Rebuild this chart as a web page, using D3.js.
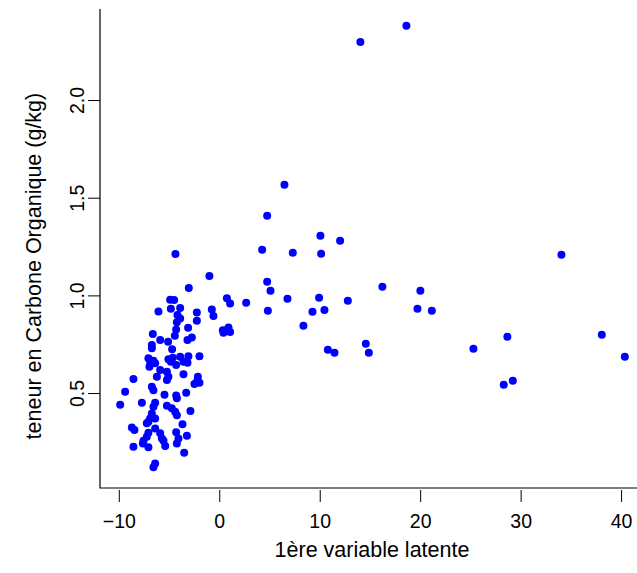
<!DOCTYPE html>
<html>
<head>
  <style>
    body {
      margin: 0;
      background: #fff;
      font-family: "Liberation Sans", Arial, sans-serif;
    }
    .axis text {
      font-size: 19.5px;
      fill: #000;
    }
    .label {
      font-size: 21.5px;
      text-anchor: middle;
    }
  </style>
</head>
<body>
  <script src="https://d3js.org/d3.v7.min.js"></script>
  <script>
    // 1ere variable latente
    var latent = [
      -4.36, -0.98, -3.03, -4.89, -4.49, 0.76, 1.08, -6.05, -4.82, -3.89,
      -2.23, -0.74, -0.58, -4.16, -3.89, -2.23, -4.22, -4.29, -3.10, -4.42,
      0.36, 0.92, 1.08, 0.42, -6.61, -5.88, -5.09, -3.16, -2.73, -6.71,
      -6.71, -4.69, -1.97, -7.05, -6.88, -6.55, -6.38, -6.95, -5.06, -4.62,
      -4.82, -3.89, -3.07, -3.56, -3.16, -4.29, -5.88, -5.21, -5.06, -5.21,
      -6.21, -3.56, -2.13, -2.23, -2.47, -1.97, -8.54, -6.71, -6.55, -9.37,
      -5.45, -4.29, -4.22, -3.29, -9.86, -7.70, -6.38, -6.55, -5.21, -4.72,
      -4.39, -4.22, -2.87, -6.71, -6.88, -7.05, -7.21, -6.38, -8.70, -8.44,
      -3.66, -6.38, -5.88, -5.71, -5.55, -7.05, -7.21, -7.54, -7.60, -4.29,
      -3.22, -4.06, -4.22, -8.54, -7.05, -5.38, -3.49, -6.38, -6.55,
      6.49, 4.77, 10.07, 12.03, 4.27, 7.32, 10.14, 4.77, 5.10, 16.24,
      20.02, 2.68, 6.79, 9.94, 12.80, 4.84, 9.28, 10.47, 19.73, 21.16,
      8.38, 10.81, 11.47, 14.59, 14.89, 34.06, 28.68, 25.30, 38.08, 40.37,
      28.32, 29.22, 14.05, 18.63
    ];

    // teneur en carbone organique (g/kg)
    var carbone = [
      1.212, 1.099, 1.038, 0.978, 0.976, 0.985, 0.959, 0.918, 0.932, 0.935,
      0.913, 0.928, 0.894, 0.899, 0.882, 0.870, 0.863, 0.826, 0.834, 0.793,
      0.822, 0.836, 0.812, 0.809, 0.802, 0.771, 0.763, 0.771, 0.785, 0.746,
      0.729, 0.724, 0.689, 0.678, 0.660, 0.665, 0.652, 0.635, 0.673, 0.681,
      0.660, 0.686, 0.689, 0.660, 0.655, 0.643, 0.618, 0.609, 0.583, 0.567,
      0.583, 0.596, 0.583, 0.558, 0.546, 0.553, 0.572, 0.532, 0.515, 0.507,
      0.491, 0.488, 0.473, 0.502, 0.440, 0.450, 0.450, 0.430, 0.435, 0.422,
      0.404, 0.386, 0.408, 0.396, 0.370, 0.353, 0.345, 0.370, 0.324, 0.311,
      0.340, 0.319, 0.294, 0.268, 0.256, 0.297, 0.276, 0.256, 0.242, 0.299,
      0.281, 0.268, 0.242, 0.225, 0.222, 0.229, 0.194, 0.140, 0.120,
      1.566, 1.408, 1.305, 1.280, 1.234, 1.218, 1.213, 1.070, 1.024, 1.044,
      1.024, 0.962, 0.983, 0.988, 0.973, 0.921, 0.916, 0.925, 0.932, 0.921,
      0.845, 0.722, 0.706, 0.752, 0.706, 1.208, 0.788, 0.727, 0.798, 0.686,
      0.542, 0.563, 2.297, 2.380
    ];

    var xTicks = [-10, 0, 10, 20, 30, 40];
    var yTicks = [0.5, 1.0, 1.5, 2.0];
    var xLim = [-11.87, 42.38];
    var yLim = [0.014, 2.466];

    var width = 637, height = 573;
    var plotLeft = 100, plotRight = 645, plotTop = 9, plotBottom = 488;

    var svg = d3.select("body").append("svg")
        .attr("width", width)
        .attr("height", height);

    var x = d3.scaleLinear().domain(xLim).range([plotLeft, plotRight]);
    var y = d3.scaleLinear().domain(yLim).range([plotBottom, plotTop]);

    // L-shaped box
    svg.append("path")
        .attr("d", "M" + x(xLim[0]) + "," + y(yLim[1]) + "V" + y(yLim[0]) + "H" + x(xLim[1]))
        .attr("fill", "none")
        .attr("stroke", "#000")
        .attr("stroke-width", 1.2);

    var x_axis = d3.axisBottom(x)
      .tickValues(xTicks)
      .tickSize(12)
      .tickPadding(12)
      .tickFormat(d3.format("d"));

    svg.append("g")
        .attr("class", "x axis")
        .attr("transform", "translate(0," + (plotBottom + 2) + ")")
        .call(x_axis)
        .call(function(g){
          g.select(".domain").remove();
          g.selectAll(".tick line").attr("stroke", "#000");
          g.selectAll(".tick text").style("font-family", "inherit");
        });

    var y_axis = d3.axisLeft(y)
      .tickValues(yTicks)
      .tickSize(12)
      .tickFormat(d3.format(".1f"));

    svg.append("g")
        .attr("class", "y axis")
        .attr("transform", "translate(" + plotLeft + ",0)")
        .call(y_axis)
        .call(function(g){
          g.select(".domain").remove();
          g.selectAll(".tick line").attr("stroke", "#000");
          g.selectAll(".tick text")
            .attr("x", null)
            .attr("dy", null)
            .attr("text-anchor", "middle")
            .attr("transform", "translate(-16,0) rotate(-90)")
            .style("font-family", "inherit");
        });

    svg.append("text")
        .attr("class", "label")
        .attr("x", 372)
        .attr("y", 557)
        .text("1ère variable latente");

    svg.append("text")
        .attr("class", "label")
        .attr("transform", "translate(41," + y(1.15) + ") rotate(-90)")
        .text("teneur en Carbone Organique (g/kg)");

    svg.selectAll(".pt")
      .data(latent.map(function(d, i){ return [d, carbone[i]]; }))
      .enter().append("circle")
        .attr("class", "pt")
        .attr("cx", function(d){ return x(d[0]); })
        .attr("cy", function(d){ return y(d[1]); })
        .attr("r", 4)
        .attr("fill", "#0000ff");
  </script>
</body>
</html>
